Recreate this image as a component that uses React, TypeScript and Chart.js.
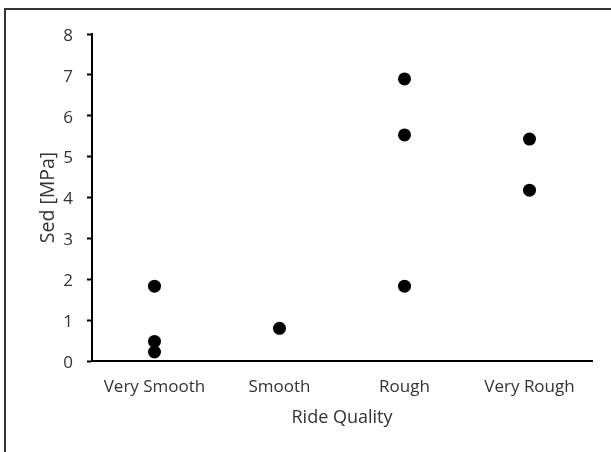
import React, { useEffect, useRef } from "react";
import { Chart, registerables } from "chart.js";

Chart.register(...registerables);

const categories = ["Very Smooth", "Smooth", "Rough", "Very Rough"];
const verySmoothValues = [1.83, 0.48, 0.22];
const smoothValues = [0.8];
const roughValues = [6.9, 5.53, 1.83];
const veryRoughValues = [5.43, 4.18];
const yTicks = [0, 1, 2, 3, 4, 5, 6, 7, 8];

const valueGroups = [verySmoothValues, smoothValues, roughValues, veryRoughValues];

const FONT = "'Open Sans', sans-serif";
const TEXT = "#333333";

const framePlugin = {
  id: "frame",
  beforeDraw(chart: any) {
    const ctx = chart.ctx;
    ctx.save();
    ctx.fillStyle = "#ffffff";
    ctx.fillRect(0, 0, chart.width, chart.height);
    ctx.strokeStyle = "#333333";
    ctx.lineWidth = 2;
    ctx.strokeRect(5, 9, chart.width + 20, chart.height + 20);
    ctx.restore();
  },
};

export default function App() {
  const ref = useRef<HTMLCanvasElement | null>(null);
  useEffect(() => {
    if (!ref.current) return;
    const points: { x: string; y: number }[] = [];
    valueGroups.forEach((vals, i) => {
      vals.forEach((v) => points.push({ x: categories[i], y: v }));
    });
    const chart = new Chart(ref.current, {
      type: "scatter",
      data: {
        labels: categories,
        datasets: [
          {
            data: points as any,
            backgroundColor: "#000000",
            borderColor: "#000000",
            pointRadius: 6.5,
            pointHoverRadius: 6.5,
            borderWidth: 0,
          },
        ],
      },
      plugins: [framePlugin],
      options: {
        responsive: false,
        animation: false,
        events: [],
        layout: { padding: { left: 0, right: 19, top: 34, bottom: 0 } },
        plugins: { legend: { display: false }, tooltip: { enabled: false } },
        scales: {
          x: {
            type: "category",
            labels: categories,
            offset: true,
            afterFit: (s: any) => {
              s.height = 91;
            },
            grid: { display: true, drawOnChartArea: false, drawTicks: false },
            border: { display: true, color: "#000000", width: 2 },
            ticks: {
              color: TEXT,
              font: { family: FONT, size: 17 },
              padding: 16,
              maxRotation: 0,
            },
            title: {
              display: true,
              text: "Ride Quality",
              color: TEXT,
              font: { family: FONT, size: 18 },
              padding: { top: 4, bottom: 23 },
            },
          },
          y: {
            type: "linear",
            min: 0,
            max: 8,
            afterFit: (s: any) => {
              s.width = 92;
            },
            afterBuildTicks: (s: any) => {
              s.ticks = yTicks.map((v) => ({ value: v }));
            },
            grid: {
              display: true,
              drawOnChartArea: false,
              drawTicks: true,
              tickLength: 5,
              tickWidth: 2,
              tickColor: "#000000",
            },
            border: { display: true, color: "#000000", width: 2 },
            ticks: {
              color: TEXT,
              font: { family: FONT, size: 17 },
              padding: 14,
              labelOffset: 2,
            },
            title: {
              display: true,
              text: "Sed [MPa]",
              color: TEXT,
              font: { family: FONT, size: 19.5 },
              padding: { top: 37, bottom: 0 },
            },
          },
        },
      },
    });
    return () => chart.destroy();
  }, []);
  return (
    <div style={{ position: "fixed", left: 0, top: 0, width: 611, height: 452 }}>
      <canvas ref={ref} width={611} height={452} style={{ display: "block" }} />
    </div>
  );
}
